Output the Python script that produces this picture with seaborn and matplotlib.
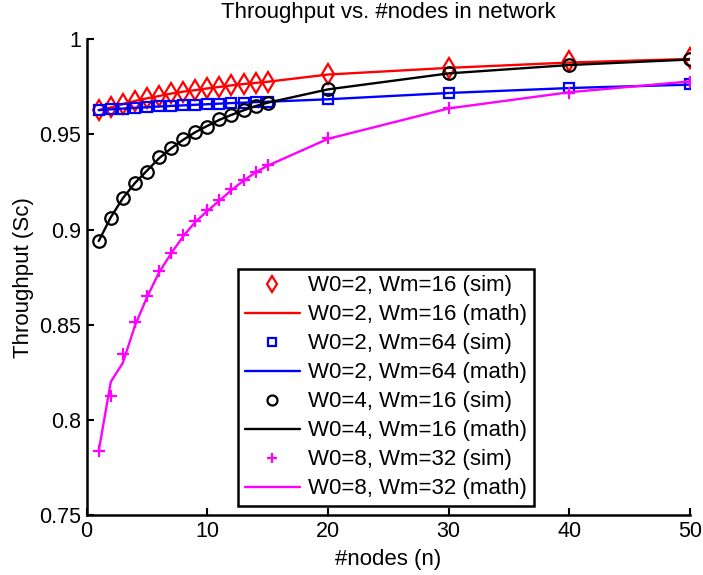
import numpy as np
import pandas as pd
import matplotlib
matplotlib.use("Agg")
import matplotlib.pyplot as plt
import seaborn as sns

# ---- data ----
n_sim = [1, 2, 3, 4, 5, 6, 7, 8, 9, 10, 11, 12, 13, 14, 15, 20, 30, 40, 50]

red_sim = [0.9628, 0.9642, 0.9660, 0.9677, 0.9690, 0.9702, 0.9716, 0.9725, 0.9733, 0.9742,
           0.9751, 0.9758, 0.9765, 0.9772, 0.9777, 0.9816, 0.9850, 0.9884, 0.9901]
red_math = [0.9628, 0.9642, 0.9660, 0.9676, 0.9690, 0.9702, 0.9715, 0.9725, 0.9733, 0.9742,
            0.9750, 0.9758, 0.9765, 0.9771, 0.9777, 0.9815, 0.9850, 0.9878, 0.9897]

blue_sim = [0.9628, 0.9632, 0.9636, 0.9640, 0.9643, 0.9647, 0.9650, 0.9653, 0.9656, 0.9659,
            0.9662, 0.9665, 0.9667, 0.9670, 0.9672, 0.9684, 0.9719, 0.9745, 0.9763]
blue_math = [0.9628, 0.9632, 0.9636, 0.9640, 0.9643, 0.9647, 0.9650, 0.9653, 0.9656, 0.9659,
             0.9662, 0.9665, 0.9667, 0.9670, 0.9672, 0.9685, 0.9718, 0.9744, 0.9762]

black_sim = [0.8940, 0.9062, 0.9167, 0.9243, 0.9304, 0.9380, 0.9427, 0.9474, 0.9514, 0.9540,
             0.9579, 0.9602, 0.9628, 0.9649, 0.9667, 0.9737, 0.9821, 0.9865, 0.9894]
black_math = [0.8940, 0.9065, 0.9165, 0.9245, 0.9310, 0.9375, 0.9427, 0.9472, 0.9512, 0.9545,
              0.9577, 0.9603, 0.9627, 0.9649, 0.9667, 0.9737, 0.9821, 0.9865, 0.9894]

mag_sim = [0.7838, 0.8125, 0.8346, 0.8516, 0.8652, 0.8784, 0.8878, 0.8971, 0.9045, 0.9103,
           0.9155, 0.9212, 0.9260, 0.9304, 0.9339, 0.9479, 0.9637, 0.9719, 0.9777]
mag_math = [0.7838, 0.8200, 0.8300, 0.8495, 0.8645, 0.8775, 0.8875, 0.8965, 0.9040, 0.9098,
            0.9152, 0.9208, 0.9257, 0.9301, 0.9336, 0.9477, 0.9637, 0.9722, 0.9779]

labels = ["W0=2, Wm=16", "W0=2, Wm=64", "W0=4, Wm=16", "W0=8, Wm=32"]
colors = ["#ff0000", "#0000ff", "#000000", "#ff00ff"]
markers = ["d", "s", "o", "+"]
msizes = [10, 7, 9, 9]

y_ticks = [0.75, 0.8, 0.85, 0.9, 0.95, 1.0]
y_ticklabels = ["0.75", "0.8", "0.85", "0.9", "0.95", "1"]
x_ticks = [0, 10, 20, 30, 40, 50]

sims = [red_sim, blue_sim, black_sim, mag_sim]
maths = [red_math, blue_math, black_math, mag_math]

# ---- plot ----
sns.set_style("white")
plt.rcParams['font.family'] = ['Liberation Sans', 'DejaVu Sans']
plt.rcParams['text.color'] = 'black'
plt.rcParams['axes.labelcolor'] = 'black'
plt.rcParams['xtick.color'] = 'black'
plt.rcParams['ytick.color'] = 'black'

fig = plt.figure(figsize=(7.03, 5.75), dpi=100)
ax = fig.add_axes([0.1233, 0.1043, 0.9815 - 0.1233, 0.9316 - 0.1043])

for lab, c, m, ms, s, mt in zip(labels, colors, markers, msizes, sims, maths):
    df_s = pd.DataFrame({"n": n_sim, "v": s})
    df_m = pd.DataFrame({"n": n_sim, "v": mt})
    sns.lineplot(data=df_s, x="n", y="v", ax=ax, color=c, marker=m, markersize=ms,
                 markerfacecolor="none", markeredgecolor=c, markeredgewidth=1.6,
                 linestyle="", label=lab + " (sim)", sort=False)
    sns.lineplot(data=df_m, x="n", y="v", ax=ax, color=c, linewidth=1.7,
                 label=lab + " (math)", sort=False)

ax.set_xlim(0, 50)
ax.set_ylim(0.75, 1.0)
ax.set_xticks(x_ticks)
ax.set_xticklabels([str(t) for t in x_ticks])
ax.set_yticks(y_ticks)
ax.set_yticklabels(y_ticklabels)

for side in ["top", "right"]:
    ax.spines[side].set_visible(False)
for side in ["left", "bottom"]:
    ax.spines[side].set_color("black")
    ax.spines[side].set_linewidth(1.8)

ax.tick_params(axis="both", direction="in", length=5, width=1.5, labelsize=15.5,
               colors="black", pad=4, left=True, bottom=True)

ax.set_title("Throughput vs. #nodes in network", fontsize=16, pad=15, color="black")
ax.set_xlabel("#nodes (n)", fontsize=16, labelpad=5, color="black")
ax.set_ylabel("Throughput (Sc)", fontsize=16, labelpad=4, color="black")

leg = ax.legend(loc="lower left", bbox_to_anchor=(0.2508, 0.019), fontsize=16,
                frameon=True, fancybox=False, framealpha=1, edgecolor="black",
                handlelength=2.5, handletextpad=0.35, labelspacing=0.36,
                borderpad=0.3, borderaxespad=0, markerscale=0.8)
leg.get_frame().set_linewidth(1.8)
for t in leg.get_texts():
    t.set_color("black")

fig.savefig("out.png", dpi=100)
